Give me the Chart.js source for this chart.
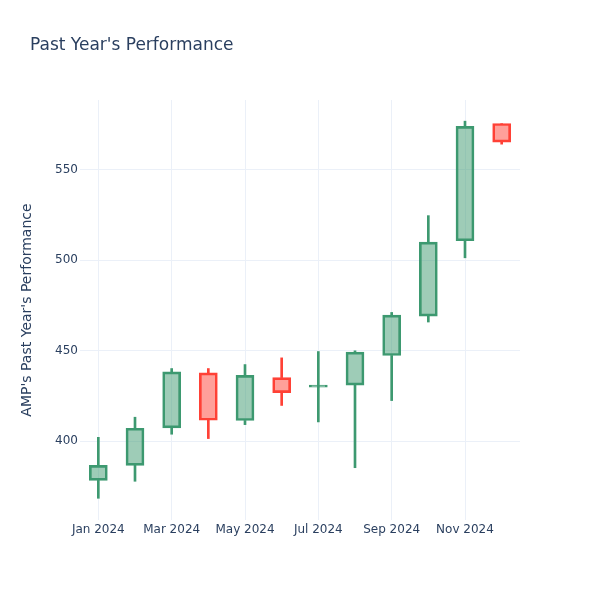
<!DOCTYPE html>
<html>
<head>
<meta charset="utf-8">
<script src="https://cdn.jsdelivr.net/npm/chart.js@4.4.1/dist/chart.umd.min.js"></script>
<style>
    html, body { margin: 0; padding: 0; background: #fff; }
    #wrap { width: 600px; height: 600px; position: relative; }
</style>
</head>
<body>
<div id="wrap"><canvas id="candleChart" width="600" height="600"></canvas></div>
<script>
// Monthly candles
const months = ['Jan 2024', 'Feb 2024', 'Mar 2024', 'Apr 2024', 'May 2024', 'Jun 2024',
                'Jul 2024', 'Aug 2024', 'Sep 2024', 'Oct 2024', 'Nov 2024', 'Dec 2024'];
const opens  = [378.4, 386.7, 407.4, 437.8, 411.5, 435.2, 429.9, 431.0, 447.4, 469.2, 510.8, 575.6];
const closes = [386.7, 407.2, 438.4, 411.6, 436.4, 426.9, 430.1, 449.3, 469.7, 510.1, 574.0, 565.3];
const highs  = [402.2, 413.3, 440.2, 440.2, 442.4, 446.1, 449.6, 450.0, 471.2, 524.7, 576.9, 575.6];
const lows   = [368.5, 377.9, 403.9, 401.5, 409.2, 419.8, 410.7, 385.4, 422.5, 465.9, 501.4, 564.2];
const yTicks = [400, 450, 500, 550];

const upLine = '#3D9970';
const upFill = 'rgba(61, 153, 112, 0.5)';
const downLine = '#FF4136';
const downFill = 'rgba(255, 65, 54, 0.5)';
const textColor = '#2a3f5f';
const gridColor = '#EBF0F8';

const isUp = opens.map((o, i) => closes[i] >= o);
const lineColors = isUp.map(up => up ? upLine : downLine);
const fillColors = isUp.map(up => up ? upFill : downFill);

// Bodies and the wicks above / below them
const bodies = opens.map((o, i) => [o, closes[i]]);
const upperWicks = highs.map((h, i) => [Math.max(opens[i], closes[i]), h]);
const lowerWicks = lows.map((l, i) => [l, Math.min(opens[i], closes[i])]);

// Title drawn at a fixed spot, like the original
const titlePlugin = {
    id: 'plainTitle',
    afterDraw(chart) {
        const ctx = chart.ctx;
        ctx.save();
        ctx.font = '17px "DejaVu Sans"';
        ctx.fillStyle = textColor;
        ctx.textAlign = 'left';
        ctx.textBaseline = 'alphabetic';
        ctx.fillText("Past Year's Performance", 30, 50);
        ctx.restore();
    }
};

Chart.defaults.font.family = '"DejaVu Sans", sans-serif';
Chart.defaults.color = textColor;

new Chart(document.getElementById('candleChart'), {
    type: 'bar',
    data: {
        labels: months,
        datasets: [
            {
                label: 'Body',
                data: bodies,
                backgroundColor: fillColors,
                borderColor: lineColors,
                borderWidth: 2,
                borderSkipped: false,
                barThickness: 18,
                minBarLength: 2,
                grouped: false,
                order: 0
            },
            {
                label: 'Upper wick',
                data: upperWicks,
                backgroundColor: lineColors,
                borderWidth: 0,
                barThickness: 2,
                grouped: false,
                order: 1
            },
            {
                label: 'Lower wick',
                data: lowerWicks,
                backgroundColor: lineColors,
                borderWidth: 0,
                barThickness: 2,
                grouped: false,
                order: 1
            }
        ]
    },
    options: {
        responsive: false,
        animation: false,
        layout: {
            padding: { top: 100, right: 80, bottom: 0, left: 0 }
        },
        plugins: {
            legend: { display: false },
            tooltip: { enabled: false },
            title: { display: false }
        },
        scales: {
            x: {
                offset: true,
                border: { display: false },
                grid: {
                    offset: false,
                    drawTicks: false,
                    color: ctx => (ctx.index % 2 === 0 ? gridColor : 'rgba(0,0,0,0)')
                },
                ticks: {
                    autoSkip: false,
                    maxRotation: 0,
                    padding: 3,
                    font: { size: 12 },
                    color: textColor,
                    callback: function (value, index) {
                        return index % 2 === 0 ? this.getLabelForValue(value) : '';
                    }
                },
                afterFit(scale) {
                    scale.height = 80;
                }
            },
            y: {
                min: 356.5,
                max: 588.6,
                border: { display: false },
                grid: { color: gridColor, drawTicks: false },
                ticks: {
                    padding: 2,
                    font: { size: 12 },
                    color: textColor
                },
                afterBuildTicks(scale) {
                    scale.ticks = yTicks.map(v => ({ value: v }));
                },
                title: {
                    display: true,
                    text: "AMP's Past Year's Performance",
                    color: textColor,
                    font: { size: 14 },
                    padding: { top: 19, bottom: 0 }
                },
                afterFit(scale) {
                    scale.width = 80;
                }
            }
        }
    },
    plugins: [titlePlugin]
});
</script>
</body>
</html>
